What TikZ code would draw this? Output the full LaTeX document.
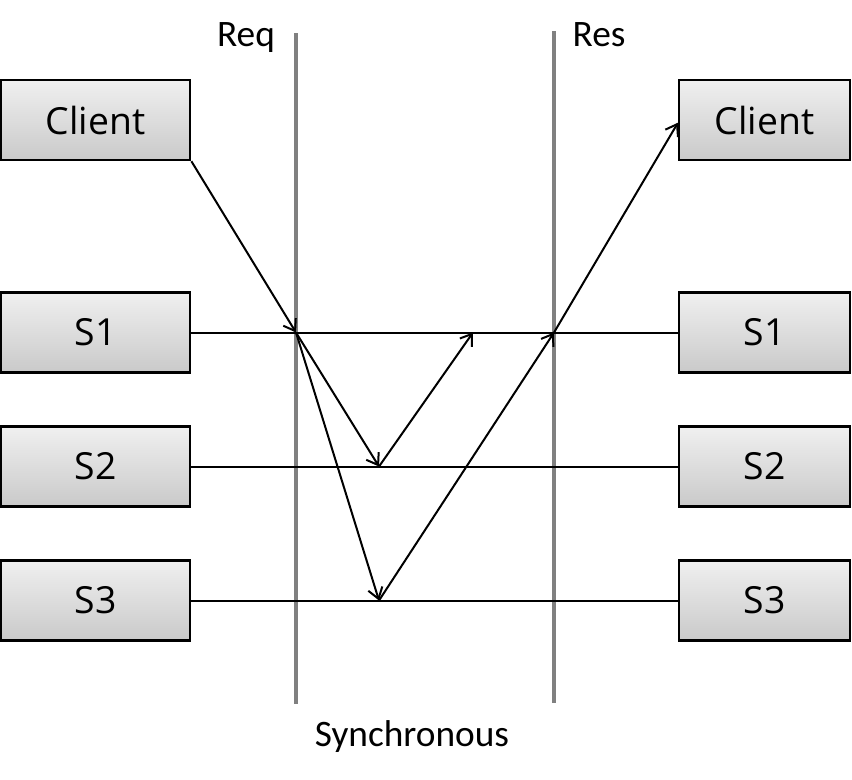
\documentclass[tikz,border=0pt]{standalone}
\usepackage{fontspec}
\setmainfont{Open Sans}
\newfontfamily\labelfont{Carlito}
\usetikzlibrary{arrows.meta}

\begin{document}
\begin{tikzpicture}[
    x = 0.75pt, y = -0.75pt,
    box/.style = {draw, line width = 1.8pt,
        top color = gray!12, bottom color = gray!42,
        minimum height = 60pt, inner sep = 0pt,
        font = \fontsize{28}{32}\selectfont},
    lbox/.style = {box, minimum width = 142pt},
    rbox/.style = {box, minimum width = 128pt},
    phase/.style = {draw = gray, line width = 3pt},
    wire/.style = {line width = 1.5pt},
    msg/.style = {wire, -{Straight Barb[length = 8pt, width = 11pt]}},
    caption/.style = {anchor = base, font = \labelfont\fontsize{28}{32}\selectfont}
]
\useasboundingbox (0,0) rectangle (852,779);

% request and response phases
\coordinate (reqtop) at (296,33);
\coordinate (reqbot) at (296,704);
\coordinate (restop) at (554,31);
\coordinate (resbot) at (554,703);
\draw[phase] (reqtop) -- (reqbot);
\draw[phase] (restop) -- (resbot);
\node[caption] (req) at (246,46) {Req};
\node[caption] (res) at (599,46) {Res};
\node[caption] (sync) at (412,746) {Synchronous};

\node[lbox] (lclient) at (95.5,120) {Client};
\node[rbox] (rclient) at (764.5,120) {Client};
\foreach \s/\y in {s1/332.5, s2/466.5, s3/600.5} {
    \node[lbox] (l\s) at (95.5,\y) {\MakeUppercase{\s}};
    \node[rbox] (r\s) at (764.5,\y) {\MakeUppercase{\s}};
    \draw[wire] (l\s) -- (r\s);
}

\coordinate (req1) at (296,332.5);
\coordinate (res1) at (554,332.5);
\coordinate (s2hit) at (379,466.5);
\coordinate (s3hit) at (379,600.5);
\coordinate (ack) at (473,332.5);

\draw[msg] (lclient.south east) -- (req1);
\draw[msg] (req1) -- (s2hit);
\draw[msg] (req1) -- (s3hit);
\draw[msg] (s2hit) -- (ack);
\draw[msg] (s3hit) -- (res1);
\draw[msg] (res1) -- ([yshift=-2pt]rclient.west);
\end{tikzpicture}
\end{document}
